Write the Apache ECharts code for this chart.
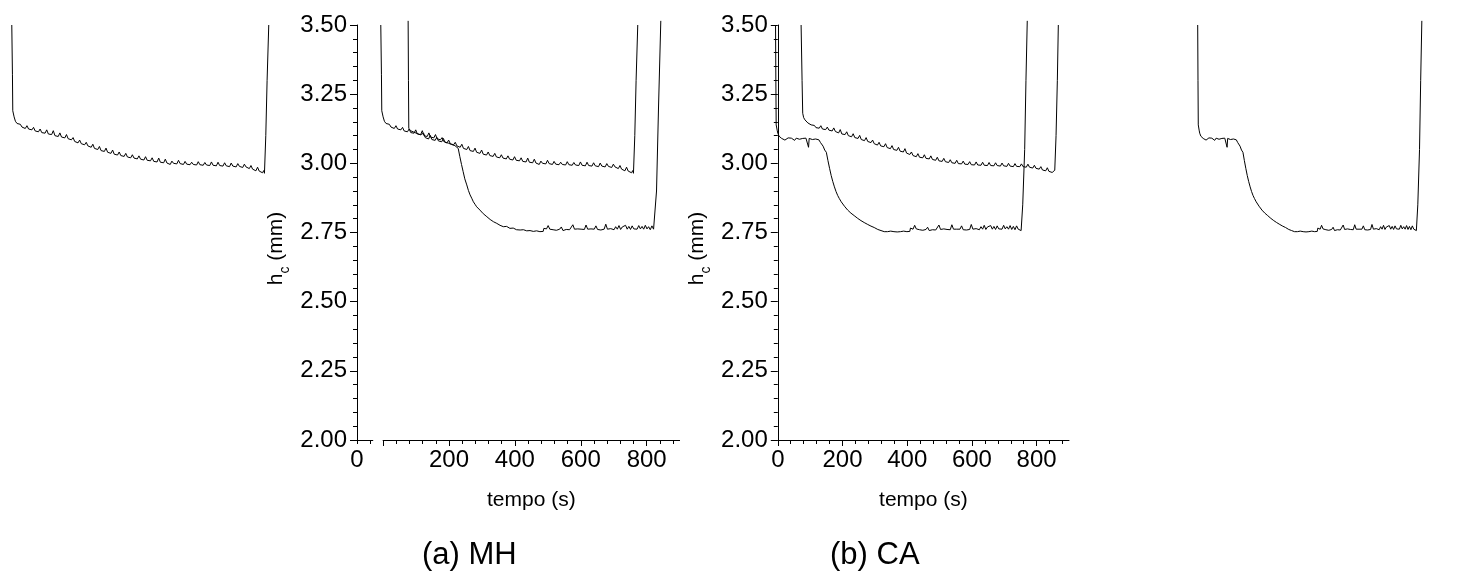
<!DOCTYPE html>
<html>
<head>
<meta charset="utf-8">
<script src="https://cdn.jsdelivr.net/npm/echarts@6.0.0/dist/echarts.min.js"></script>
<style>
html,body{margin:0;padding:0;background:#fff;}
#chart{width:1459px;height:571px;}
</style>
</head>
<body>
<div id="chart"></div>
<script>
// ---------- data (time in s, h_c in mm) ----------
const xMajorTicks = [0, 200, 400, 600, 800];
const xLabelsMH = [200, 400, 600, 800];
const xLabelsCA = [0, 200, 400, 600, 800];
const xMinorTicks = [40, 80, 120, 160, 240, 280, 320, 360, 440, 480, 520, 560, 640, 680, 720, 760, 840, 880];
const stubTicks = [0, 40];
const stubLabels = [0];

// (a) MH – upper curve (also repeated in the left partial panel)
const mhCurve1 = [
[-7,3.50],[-5,3.32],[-4,3.19],[0,3.168],[4,3.152],[9,3.144],[14,3.138],[19,3.141],[24,3.131],[29,3.134],[34,3.126],[39,3.136],[44,3.124],[49,3.127],[54,3.121],[59,3.130],[64,3.117],[69,3.121],[74,3.114],[79,3.124],[84,3.111],[89,3.116],[94,3.109],[99,3.121],[104,3.106],[109,3.112],[114,3.104],[119,3.118],[124,3.100],[129,3.106],[134,3.097],[139,3.110],[144,3.095],[149,3.101],[154,3.092],[159,3.104],[164,3.089],[169,3.095],[174,3.085],[179,3.093],[184,3.079],[189,3.086],[194,3.074],[199,3.084],[204,3.071],[209,3.077],[214,3.067],[219,3.076],[224,3.063],[229,3.068],[234,3.058],[239,3.069],[244,3.054],[249,3.060],[254,3.050],[259,3.061],[264,3.046],[269,3.052],[274,3.043],[279,3.055],[284,3.040],[289,3.045],[294,3.036],[299,3.048],[304,3.033],[309,3.038],[314,3.030],[319,3.041],[324,3.028],[329,3.033],[334,3.025],[339,3.036],[344,3.023],[349,3.029],[354,3.020],[359,3.031],[364,3.019],[369,3.025],[374,3.016],[379,3.027],[384,3.015],[389,3.021],[394,3.012],[399,3.024],[404,3.011],[409,3.018],[414,3.009],[419,3.020],[424,3.007],[429,3.013],[434,3.005],[439,3.019],[444,3.004],[449,3.010],[454,3.002],[459,3.015],[464,3.001],[469,3.006],[474,2.996],[479,3.008],[484,3.000],[489,3.005],[494,2.998],[499,3.011],[504,2.999],[509,3.003],[514,2.996],[519,3.007],[524,2.997],[529,3.002],[534,2.995],[539,3.004],[544,2.996],[549,3.001],[554,2.994],[559,3.006],[564,2.995],[569,2.999],[574,2.993],[579,3.003],[584,2.994],[589,2.998],[594,2.992],[599,3.005],[604,2.993],[609,2.997],[614,2.991],[619,3.004],[624,2.992],[629,2.996],[634,2.990],[639,3.002],[644,2.991],[649,2.995],[654,2.988],[659,3.001],[664,2.990],[669,2.994],[674,2.987],[679,2.999],[684,2.989],[689,2.993],[694,2.985],[699,2.997],[704,2.987],[709,2.990],[714,2.981],[719,2.992],[724,2.979],[729,2.984],[734,2.973],[739,2.986],[744,2.972],[749,2.978],[754,2.966],[758,2.974],[760,2.964],[764,3.10],[768,3.30],[773,3.50]
];

// (a) MH – lower curve
const mhCurve2 = [
[76,3.515],[77,3.30],[78,3.127],[83,3.118],[88,3.124],[93,3.113],[98,3.119],[103,3.108],[108,3.115],[113,3.103],[118,3.097],[123,3.109],[128,3.093],[133,3.099],[138,3.088],[143,3.101],[148,3.086],[153,3.093],[158,3.083],[163,3.094],[168,3.081],[173,3.087],[178,3.078],[183,3.090],[188,3.076],[193,3.082],[198,3.073],[203,3.080],[208,3.068],[213,3.075],[218,3.064],[223,3.060],[228,3.054],[233,3.024],[238,2.996],[243,2.970],[248,2.944],[254,2.922],[259,2.902],[264,2.886],[269,2.874],[274,2.861],[279,2.852],[284,2.843],[289,2.838],[294,2.831],[299,2.824],[304,2.818],[309,2.813],[315,2.807],[320,2.801],[325,2.797],[330,2.792],[335,2.789],[340,2.785],[345,2.783],[350,2.779],[355,2.776],[360,2.774],[365,2.771],[370,2.769],[375,2.772],[380,2.766],[385,2.765],[390,2.763],[395,2.766],[400,2.761],[405,2.760],[410,2.763],[416,2.759],[421,2.757],[426,2.760],[431,2.755],[436,2.756],[441,2.753],[446,2.757],[451,2.753],[456,2.754],[461,2.752],[466,2.756],[471,2.753],[476,2.753],[481,2.753],[486,2.754],[488,2.765],[491,2.770],[496,2.763],[501,2.775],[506,2.762],[511,2.768],[516,2.760],[521,2.764],[526,2.758],[531,2.763],[536,2.762],[541,2.770],[546,2.757],[551,2.763],[556,2.761],[561,2.764],[566,2.760],[571,2.762],[576,2.778],[581,2.762],[586,2.760],[591,2.763],[596,2.758],[601,2.762],[606,2.766],[611,2.761],[616,2.777],[621,2.762],[626,2.760],[631,2.763],[636,2.757],[641,2.762],[646,2.774],[651,2.761],[656,2.763],[661,2.759],[666,2.762],[671,2.762],[676,2.780],[681,2.762],[686,2.760],[691,2.764],[696,2.768],[701,2.760],[706,2.771],[711,2.762],[716,2.775],[721,2.761],[726,2.770],[731,2.763],[736,2.776],[741,2.762],[746,2.772],[751,2.761],[756,2.774],[761,2.763],[766,2.770],[771,2.762],[776,2.775],[781,2.763],[786,2.772],[791,2.762],[796,2.776],[801,2.763],[806,2.771],[811,2.760],[816,2.774],[821,2.762],[825,2.757],[830,2.90],[836,3.20],[843,3.515]
];

// (b) CA – lower (stepped) curve (also repeated in the right partial panel)
const caCurveLow = [
[-7,3.50],[-6,3.30],[-5,3.139],[-2,3.120],[0,3.109],[4,3.098],[8,3.093],[12,3.090],[17,3.091],[22,3.084],[27,3.090],[32,3.092],[37,3.086],[42,3.091],[47,3.089],[52,3.083],[57,3.091],[62,3.092],[67,3.087],[72,3.092],[77,3.090],[82,3.085],[87,3.091],[92,3.089],[95,3.058],[97,3.090],[102,3.091],[107,3.086],[112,3.090],[117,3.088],[122,3.084],[127,3.085],[132,3.075],[136,3.068],[140,3.062],[145,3.048],[150,3.040],[155,3.010],[160,2.982],[165,2.956],[170,2.934],[175,2.915],[180,2.898],[185,2.884],[190,2.873],[196,2.861],[201,2.853],[206,2.845],[211,2.838],[216,2.831],[221,2.826],[226,2.820],[231,2.815],[236,2.811],[242,2.807],[247,2.801],[252,2.797],[257,2.793],[262,2.790],[267,2.786],[273,2.783],[278,2.779],[283,2.776],[288,2.773],[293,2.770],[298,2.768],[304,2.765],[309,2.761],[314,2.759],[319,2.757],[324,2.755],[329,2.753],[334,2.756],[339,2.753],[344,2.752],[349,2.755],[354,2.753],[359,2.753],[364,2.757],[369,2.752],[374,2.754],[379,2.753],[384,2.753],[389,2.755],[394,2.752],[399,2.753],[404,2.753],[408,2.754],[410,2.766],[413,2.771],[418,2.762],[423,2.776],[428,2.763],[433,2.767],[438,2.760],[443,2.762],[448,2.758],[453,2.763],[458,2.761],[463,2.769],[468,2.757],[473,2.762],[478,2.760],[483,2.764],[488,2.759],[493,2.762],[498,2.777],[503,2.761],[508,2.760],[513,2.763],[518,2.758],[523,2.761],[528,2.766],[533,2.760],[538,2.778],[543,2.762],[548,2.759],[553,2.762],[558,2.757],[563,2.762],[568,2.774],[573,2.760],[578,2.763],[583,2.759],[588,2.762],[593,2.761],[598,2.779],[603,2.762],[608,2.760],[613,2.764],[618,2.769],[623,2.760],[628,2.771],[633,2.762],[638,2.776],[643,2.761],[648,2.770],[653,2.763],[658,2.775],[663,2.762],[668,2.772],[673,2.761],[678,2.774],[683,2.763],[688,2.770],[693,2.762],[698,2.776],[703,2.763],[708,2.771],[713,2.762],[718,2.775],[723,2.761],[728,2.772],[733,2.760],[738,2.774],[743,2.762],[748,2.768],[752,2.757],[757,2.85],[763,3.05],[767,3.30],[771,3.515]
];

// (b) CA – upper curve
const caCurveUp = [
[72,3.50],[75,3.30],[77,3.181],[80,3.165],[84,3.157],[88,3.151],[93,3.146],[98,3.141],[103,3.139],[108,3.134],[113,3.137],[118,3.129],[123,3.132],[128,3.127],[133,3.136],[138,3.124],[143,3.128],[148,3.122],[153,3.131],[158,3.120],[163,3.124],[168,3.117],[173,3.128],[178,3.115],[183,3.119],[188,3.110],[193,3.122],[198,3.106],[203,3.112],[208,3.104],[213,3.114],[218,3.100],[223,3.105],[228,3.096],[233,3.107],[238,3.093],[243,3.098],[248,3.090],[253,3.101],[258,3.086],[263,3.092],[268,3.082],[273,3.093],[278,3.079],[283,3.085],[288,3.075],[293,3.084],[298,3.071],[303,3.077],[308,3.066],[313,3.076],[318,3.063],[323,3.068],[328,3.060],[333,3.071],[338,3.057],[343,3.062],[348,3.053],[353,3.064],[358,3.050],[363,3.056],[368,3.047],[373,3.058],[378,3.044],[383,3.050],[388,3.041],[393,3.053],[398,3.037],[403,3.042],[408,3.032],[413,3.041],[418,3.028],[423,3.034],[428,3.024],[433,3.035],[438,3.022],[443,3.027],[448,3.020],[453,3.031],[458,3.018],[463,3.023],[468,3.016],[473,3.027],[478,3.014],[483,3.019],[488,3.011],[493,3.022],[498,3.009],[503,3.014],[508,3.007],[513,3.018],[518,3.006],[523,3.010],[528,3.003],[533,3.013],[538,3.002],[543,3.006],[548,3.000],[553,3.011],[558,2.999],[563,3.003],[568,2.998],[573,3.008],[578,2.997],[583,3.001],[588,2.996],[593,3.006],[598,2.995],[603,3.000],[608,2.994],[613,3.005],[618,2.994],[623,2.998],[628,2.993],[633,3.004],[638,2.993],[643,2.997],[648,2.992],[653,3.003],[658,2.992],[663,2.996],[668,2.991],[673,3.002],[678,2.992],[683,2.995],[688,2.990],[693,3.001],[698,2.991],[703,2.994],[708,2.989],[713,3.000],[718,2.990],[723,2.993],[728,2.988],[733,2.999],[738,2.989],[743,2.992],[748,2.988],[753,2.998],[758,2.988],[763,2.991],[768,2.986],[773,2.997],[778,2.986],[783,2.990],[788,2.983],[793,2.993],[798,2.982],[803,2.986],[808,2.979],[813,2.988],[818,2.976],[823,2.982],[828,2.973],[833,2.984],[838,2.971],[843,2.976],[848,2.967],[852,2.965],[856,2.975],[860,3.10],[864,3.30],[867,3.50]
];

// ---------- chart ----------
const FONT = 'Liberation Sans, Arial, Helvetica, sans-serif';
const BLACK = '#000';
const chart = echarts.init(document.getElementById('chart'), null, {renderer: 'canvas'});

const lineSeries = (data, xi, yi) => ({
  type: 'line', data: data, xAxisIndex: xi, yAxisIndex: yi,
  showSymbol: false, symbol: 'none', clip: false, silent: true,
  lineStyle: {color: BLACK, width: 1}, animation: false
});

const majorX = (gi, labels) => ({
  gridIndex: gi, type: 'value', min: 0, max: 900, position: 'bottom',
  axisLine: {show: true, onZero: false, lineStyle: {color: BLACK, width: 1}},
  axisTick: {show: true, customValues: xMajorTicks, length: 6, lineStyle: {color: BLACK}},
  axisLabel: {show: true, customValues: labels, fontSize: 24, color: BLACK, fontFamily: FONT, margin: 8},
  splitLine: {show: false},
  name: 'tempo (s)', nameLocation: 'middle', nameGap: 50,
  nameTextStyle: {fontSize: 21, color: BLACK, fontFamily: FONT}
});
const minorX = (gi) => ({
  gridIndex: gi, type: 'value', min: 0, max: 900, position: 'bottom', offset: 0,
  axisLine: {show: false, onZero: false},
  axisTick: {show: true, customValues: xMinorTicks, length: 4, lineStyle: {color: BLACK}},
  axisLabel: {show: false}, splitLine: {show: false}
});
const dataX = (gi) => ({gridIndex: gi, type: 'value', min: -8, max: 900, show: false});
const hiddenY = (gi) => ({gridIndex: gi, type: 'value', min: 2, max: 3.5, show: false});
const shownY = (gi) => ({
  gridIndex: gi, type: 'value', min: 2, max: 3.5, interval: 0.25,
  axisLine: {show: true, onZero: false, lineStyle: {color: BLACK, width: 1}},
  axisTick: {show: true, length: 7, lineStyle: {color: BLACK}},
  minorTick: {show: true, splitNumber: 5, length: 4, lineStyle: {color: BLACK}},
  axisLabel: {fontSize: 24, color: BLACK, fontFamily: FONT, margin: 10, formatter: v => v.toFixed(2)},
  splitLine: {show: false}, minorSplitLine: {show: false},
  name: '{m|h}{s|c}{m| (mm)}', nameLocation: 'middle', nameGap: 65, nameMoveOverlap: false,
  nameTextStyle: {
    color: BLACK, fontFamily: FONT, padding: [0, 32, 0, 0],
    rich: {
      m: {fontSize: 21, lineHeight: 21, verticalAlign: 'top', color: BLACK, fontFamily: FONT},
      s: {fontSize: 14, lineHeight: 26, verticalAlign: 'bottom', color: BLACK, fontFamily: FONT}
    }
  }
});

const option = {
  backgroundColor: '#fff',
  animation: false,
  title: [
    {text: '(a) MH', left: 417, top: 535, textStyle: {fontSize: 31, fontWeight: 'normal', color: BLACK, fontFamily: FONT}},
    {text: '(b) CA', left: 825, top: 535, textStyle: {fontSize: 31, fontWeight: 'normal', color: BLACK, fontFamily: FONT}}
  ],
  grid: [
    {left: 380.46, top: 25, width: 299.13, height: 415},  // 0: (a) data
    {left: 357, top: 25, width: 15.8, height: 415},       // 1: (a) y axis + short stub
    {left: 383.1, top: 25, width: 296.5, height: 415},    // 2: (a) x axis
    {left: 775.21, top: 25, width: 293.79, height: 415},  // 3: (b) data
    {left: 777.8, top: 25, width: 291.2, height: 415},    // 4: (b) axes
    {left: 11.46, top: 25, width: 299.13, height: 415},   // 5: left partial panel
    {left: 1197.41, top: 25, width: 293.79, height: 415}  // 6: right partial panel
  ],
  xAxis: [
    dataX(0),                 // 0
    {                         // 1
      gridIndex: 1, type: 'value', min: 0, max: 48,
      axisLine: {show: true, onZero: false, lineStyle: {color: BLACK, width: 1}},
      axisTick: {show: true, customValues: stubTicks, length: 4, lineStyle: {color: BLACK}},
      axisLabel: {show: true, customValues: stubLabels, fontSize: 24, color: BLACK, fontFamily: FONT, margin: 8},
      splitLine: {show: false}
    },
    majorX(2, xLabelsMH),     // 2
    minorX(2),                // 3
    dataX(3),                 // 4
    majorX(4, xLabelsCA),     // 5
    minorX(4),                // 6
    dataX(5),                 // 7
    dataX(6)                  // 8
  ],
  yAxis: [
    hiddenY(0),   // 0
    shownY(1),    // 1
    hiddenY(2),   // 2
    hiddenY(3),   // 3
    shownY(4),    // 4
    hiddenY(5),   // 5
    hiddenY(6)    // 6
  ],
  series: [
    lineSeries(mhCurve1, 0, 0),
    lineSeries(mhCurve2, 0, 0),
    lineSeries(caCurveLow, 4, 3),
    lineSeries(caCurveUp, 4, 3),
    lineSeries(mhCurve1, 7, 5),
    lineSeries(caCurveLow, 8, 6)
  ]
};
chart.setOption(option);
</script>
</body>
</html>
